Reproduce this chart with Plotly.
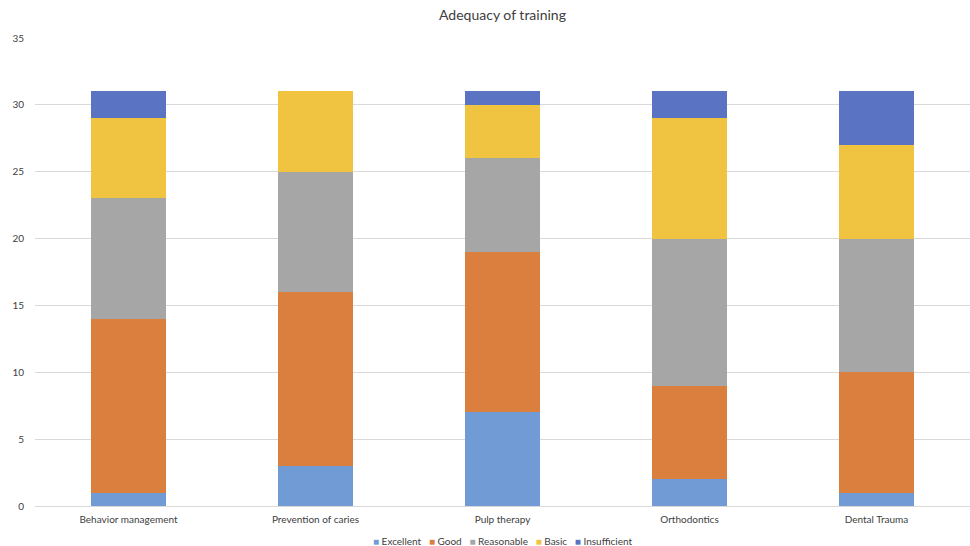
import plotly.graph_objects as go

categories = ["Behavior management", "Prevention of caries", "Pulp therapy", "Orthodontics", "Dental Trauma"]
excellent = [1, 3, 7, 2, 1]
good = [13, 13, 12, 7, 9]
reasonable = [9, 9, 7, 11, 10]
basic = [6, 6, 4, 9, 7]
insufficient = [2, 0, 1, 2, 4]

series = [
    ("Excellent", excellent, "#709BD4"),
    ("Good", good, "#DB7F3F"),
    ("Reasonable", reasonable, "#A6A6A6"),
    ("Basic", basic, "#F0C440"),
    ("Insufficient", insufficient, "#5B73C3"),
]

font = "Lato"
fig = go.Figure()
for name, vals, color in series:
    fig.add_trace(go.Bar(name=name, x=categories, y=vals, marker=dict(color=color, line=dict(width=0)),
                         width=0.4, showlegend=False))

legend_text = "&nbsp;&nbsp;&nbsp;".join(
    f"<span style='color:{c}'>■</span> {n}" for n, _, c in series
)
fig.add_annotation(text=legend_text, xref="paper", yref="paper", x=0.5, y=-0.075,
                   xanchor="center", yanchor="middle", showarrow=False,
                   font=dict(size=10, color="#404040", family=font))

fig.update_layout(
    barmode="stack",
    width=970, height=546,
    margin=dict(l=35, r=0, t=38, b=40, autoexpand=False),
    paper_bgcolor="white", plot_bgcolor="white",
    font=dict(family=font, size=10, color="#404040"),
    title=dict(text="Adequacy of training", x=0.5, xanchor="center", xref="paper",
               y=1 - 15 / 546, yref="container", yanchor="middle",
               font=dict(size=14, color="#404040", family=font)),
    showlegend=False,
)
fig.update_yaxes(range=[0, 35], dtick=5, showgrid=True, gridcolor="#D9D9D9", gridwidth=1,
                 zeroline=False, showline=False, ticks="", ticklabelstandoff=10, automargin=False,
                 tickfont=dict(size=10, color="#404040"))
fig.update_xaxes(showline=True, linecolor="#D9D9D9", linewidth=1, ticks="", automargin=False,
                 ticklabelstandoff=4, tickfont=dict(size=10, color="#404040"))

fig.write_html("out.html", config={"displayModeBar": False},
               post_script="document.body.style.margin='0';document.body.style.overflow='hidden';")
